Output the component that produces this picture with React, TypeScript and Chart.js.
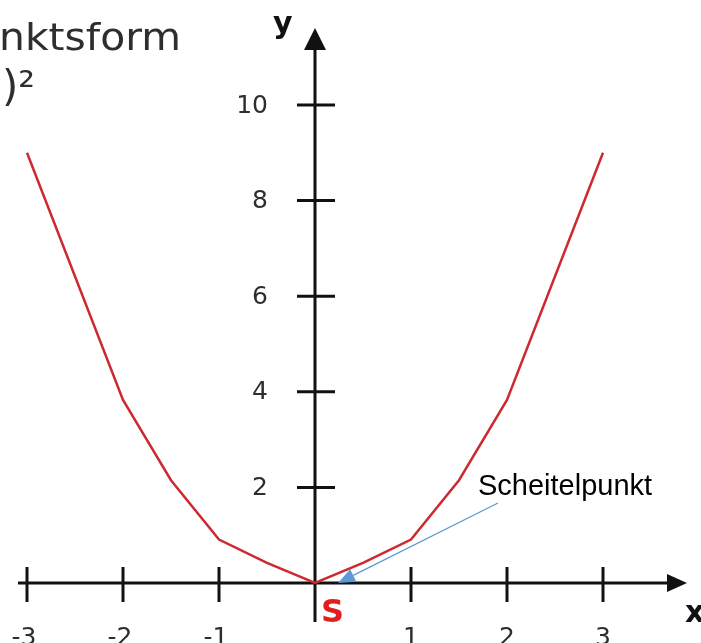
import React, { useEffect, useRef } from "react";
import { Chart, registerables } from "chart.js";

Chart.register(...registerables);

// ---- data ----
const xValues = [-3, -2, -1.5, -1, -0.5, 0, 0.5, 1, 1.5, 2, 3];
const yValues = [9, 3.83, 2.15, 0.91, 0.42, 0, 0.42, 0.91, 2.15, 3.83, 9];
const xTicks = [-3, -2, -1, 1, 2, 3];
const yTicks = [2, 4, 6, 8, 10];
const titleLine1 = "nktsform";
const titleLine2 = ")²";
const vertexLabel = "S";
const annotationText = "Scheitelpunkt";
const xAxisLabel = "x";
const yAxisLabel = "y";

// ---- axis ranges (layout) ----
const X_MIN = -315 / 96;
const X_MAX = (701 - 315) / 96;
const Y_MIN = -(643 - 583) / 47.8;
const Y_MAX = 583 / 47.8;

const AXIS = "#111111";
const TEXT = "#2e2e2e";

const axesPlugin = {
  id: "centeredAxes",
  beforeDatasetsDraw(chart: any) {
    const ctx = chart.ctx as CanvasRenderingContext2D;
    const xs = chart.scales.x;
    const ys = chart.scales.y;
    const x0 = xs.getPixelForValue(0);
    const y0 = ys.getPixelForValue(0);
    ctx.save();
    ctx.strokeStyle = AXIS;
    ctx.fillStyle = AXIS;
    ctx.lineWidth = 3;
    ctx.lineCap = "butt";
    // x axis
    const xStart = xs.getPixelForValue(-3) - 9;
    const xTip = xs.right - 14;
    ctx.beginPath();
    ctx.moveTo(xStart, y0);
    ctx.lineTo(xTip - 19, y0);
    ctx.stroke();
    ctx.beginPath();
    ctx.moveTo(xTip, y0);
    ctx.lineTo(xTip - 20, y0 - 9);
    ctx.lineTo(xTip - 20, y0 + 9);
    ctx.closePath();
    ctx.fill();
    // y axis
    const yTip = 28;
    ctx.beginPath();
    ctx.moveTo(x0, y0 + 39);
    ctx.lineTo(x0, yTip + 21);
    ctx.stroke();
    ctx.beginPath();
    ctx.moveTo(x0, yTip);
    ctx.lineTo(x0 - 11, yTip + 22);
    ctx.lineTo(x0 + 11, yTip + 22);
    ctx.closePath();
    ctx.fill();
    // x ticks
    for (const t of xTicks) {
      const px = xs.getPixelForValue(t);
      ctx.beginPath();
      ctx.moveTo(px, y0 - 16);
      ctx.lineTo(px, y0 + 19);
      ctx.stroke();
    }
    // y ticks
    for (const t of yTicks) {
      const py = ys.getPixelForValue(t);
      ctx.beginPath();
      ctx.moveTo(x0 - 18, py);
      ctx.lineTo(x0 + 20, py);
      ctx.stroke();
    }
    // tick labels
    ctx.fillStyle = TEXT;
    ctx.font = '25px "DejaVu Sans"';
    ctx.textAlign = "right";
    ctx.textBaseline = "middle";
    for (const t of yTicks) {
      const py = ys.getPixelForValue(t);
      ctx.fillText(String(t), x0 - 47, py + 1);
    }
    ctx.textAlign = "center";
    ctx.textBaseline = "alphabetic";
    for (const t of xTicks) {
      const px = xs.getPixelForValue(t);
      ctx.fillText(String(t), px + (t < 0 ? -3 : 0), y0 + 62);
    }
    ctx.restore();
  },
  afterDatasetsDraw(chart: any) {
    const ctx = chart.ctx as CanvasRenderingContext2D;
    const xs = chart.scales.x;
    const ys = chart.scales.y;
    const x0 = xs.getPixelForValue(0);
    const y0 = ys.getPixelForValue(0);
    ctx.save();
    // axis names
    ctx.fillStyle = "#111111";
    ctx.font = 'bold 30px "DejaVu Sans"';
    ctx.textAlign = "left";
    ctx.textBaseline = "alphabetic";
    ctx.fillText(xAxisLabel, xs.right - 16, y0 + 39);
    ctx.fillText(yAxisLabel, x0 - 42, 33);
    // vertex label
    ctx.fillStyle = "#e01e1e";
    ctx.font = 'bold 32px "DejaVu Sans"';
    ctx.fillText(vertexLabel, x0 + 6, y0 + 39);
    // title fragments
    ctx.fillStyle = TEXT;
    ctx.font = '38px "DejaVu Sans"';
    const w1 = ctx.measureText(titleLine1).width;
    ctx.save();
    ctx.translate(-1, 50);
    ctx.scale(182 / w1, 1);
    ctx.fillText(titleLine1, 0, 0);
    ctx.restore();
    ctx.save();
    ctx.translate(2, 101);
    ctx.scale(1.1, 1.12);
    ctx.fillText(titleLine2, 0, 0);
    ctx.restore();
    // annotation
    const tipX = xs.getPixelForValue(0.24);
    const tipY = y0;
    const startX = 498;
    const startY = 503;
    const dx = tipX - startX;
    const dy = tipY - startY;
    const len = Math.hypot(dx, dy);
    const ux = dx / len;
    const uy = dy / len;
    const headL = 17;
    const headW = 7;
    const bx = tipX - ux * headL;
    const by = tipY - uy * headL;
    ctx.strokeStyle = "#5b9bd5";
    ctx.fillStyle = "#5b9bd5";
    ctx.lineWidth = 1.3;
    ctx.beginPath();
    ctx.moveTo(startX, startY);
    ctx.lineTo(bx, by);
    ctx.stroke();
    ctx.beginPath();
    ctx.moveTo(tipX, tipY);
    ctx.lineTo(bx - uy * headW, by + ux * headW);
    ctx.lineTo(bx + uy * headW, by - ux * headW);
    ctx.closePath();
    ctx.fill();
    ctx.fillStyle = "#000000";
    ctx.font = '29px "Liberation Sans"';
    ctx.fillText(annotationText, 478, 495);
    ctx.restore();
  },
};

export default function App() {
  const ref = useRef<HTMLCanvasElement | null>(null);
  useEffect(() => {
    if (!ref.current) return;
    const chart = new Chart(ref.current, {
      type: "line",
      data: {
        datasets: [
          {
            data: xValues.map((x, i) => ({ x, y: yValues[i] })),
            borderColor: "#cc2a30",
            borderWidth: 2.5,
            pointRadius: 0,
            tension: 0,
            fill: false,
          },
        ],
      },
      options: {
        animation: false,
        responsive: false,
        maintainAspectRatio: false,
        events: [],
        layout: { padding: 0 },
        plugins: {
          legend: { display: false },
          tooltip: { enabled: false },
          title: { display: false },
        },
        scales: {
          x: { type: "linear", min: X_MIN, max: X_MAX, display: false },
          y: { type: "linear", min: Y_MIN, max: Y_MAX, display: false },
        },
      },
      plugins: [axesPlugin],
    } as any);
    return () => chart.destroy();
  }, []);
  return (
    <div style={{ position: "fixed", left: 0, top: 0, width: 701, height: 643, background: "#ffffff" }}>
      <canvas ref={ref} width={701} height={643} style={{ display: "block" }} />
    </div>
  );
}
